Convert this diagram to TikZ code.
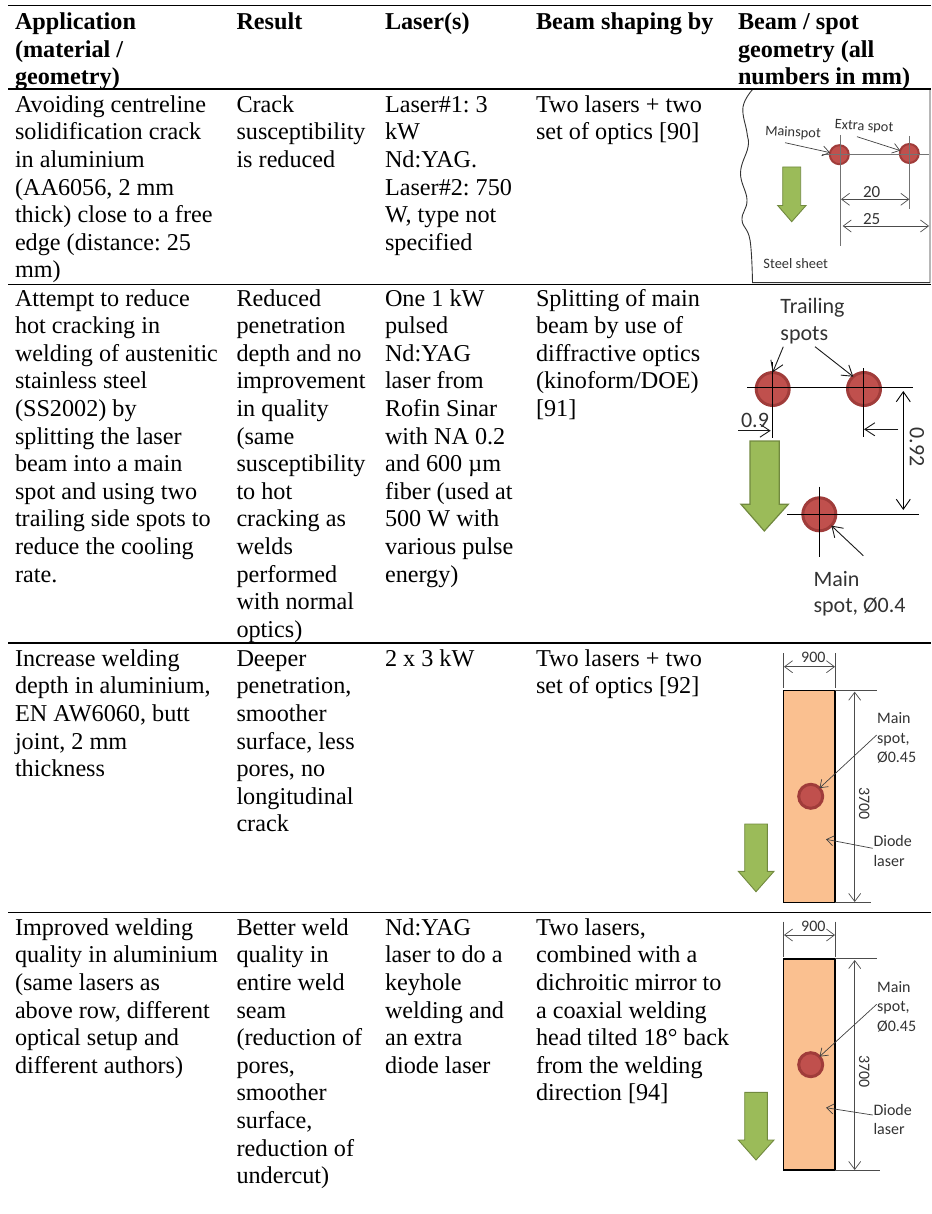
\documentclass[tikz,border=0pt]{standalone}
\usepackage{fontspec}
\setmainfont{Liberation Serif}
\newfontfamily\figfont{Carlito}
\usetikzlibrary{arrows.meta}
\newcommand\lineone{\rule{0pt}{19.3pt}}
\definecolor{spotfill}{HTML}{C0504D}
\definecolor{spotline}{HTML}{A03C3A}
\definecolor{arrowfill}{HTML}{9BBB59}
\definecolor{arrowline}{HTML}{71893F}
\definecolor{laserfill}{HTML}{FAC090}
\definecolor{figtext}{HTML}{333333}
\tikzset{
  x=1pt,y=-1pt,
  cell/.style={anchor=north west,align=left,inner sep=0pt,outer sep=0pt,text=black,
    font=\fontsize{24.2}{27.6}\selectfont\frenchspacing},
  headcell/.style={cell,font=\fontsize{24.2}{27.6}\selectfont\frenchspacing\bfseries},
  rule/.style={line width=1.1pt,black},
  dim/.style={line width=0.7pt,draw=black!70,{Straight Barb[length=8pt,width=12pt]}-{Straight Barb[length=8pt,width=12pt]}},
  lead/.style={line width=0.7pt,draw=black!75,-{Straight Barb[length=7pt,width=10pt]}},
  blackdim/.style={line width=0.9pt,draw=black,{Straight Barb[length=10pt,width=14pt]}-{Straight Barb[length=10pt,width=14pt]}},
  blacklead/.style={line width=0.9pt,draw=black!90,-{Straight Barb[length=10pt,width=13pt]}},
  ext/.style={line width=0.8pt,draw=black!70},
  cross/.style={line width=0.9pt,draw=black},
  greyline/.style={line width=0.9pt,draw=black!55},
  labsm/.style={inner sep=0pt,text=figtext,font=\figfont\fontsize{14.4}{17}\selectfont,align=left},
  lab/.style={inner sep=0pt,text=figtext,font=\figfont\fontsize{16}{19.5}\selectfont,align=left},
  labdim/.style={inner sep=0pt,text=figtext,font=\figfont\fontsize{17}{19}\selectfont,align=left},
  labbig/.style={inner sep=0pt,text=figtext,font=\figfont\fontsize{22}{26.4}\selectfont,align=left},
  spot/.style={circle,draw=spotline,fill=spotfill,minimum size=#1,inner sep=0pt,outer sep=0pt,line width=3pt},
  moveshape/.style={draw=arrowline,fill=arrowfill,line width=0.9pt},
}
\begin{document}
\begin{tikzpicture}
\useasboundingbox (0,0) rectangle (931,1214);
% rules
\coordinate (r0l) at (8,5.5); \coordinate (r0r) at (931,5.5);
\coordinate (r1l) at (8,89); \coordinate (r1r) at (931,89);
\coordinate (r2l) at (8,284.3); \coordinate (r2r) at (931,284.3);
\coordinate (r3l) at (8,643); \coordinate (r3r) at (931,643);
\coordinate (r4l) at (8,912.3); \coordinate (r4r) at (931,912.3);
% fig 1 outline (below the rules)
\draw[line width=0.9pt,black!80] plot[smooth,tension=0.7] coordinates {(753,89) (743,107) (747,133) (748,147) (740.5,173) (747,200) (742,220) (750,240) (752.5,282.7)} -- (930,282.7) -- (930,89);
\draw[rule,line width=1.8pt] (r0l) -- (r0r);
\draw[rule] (r1l) -- (r1r);
\draw[rule] (r2l) -- (r2r);
\draw[rule] (r3l) -- (r3r);
\draw[rule] (r4l) -- (r4r);
% header
\node[headcell] (h1) at (15,10.2) {\lineone Application\\(material /\\geometry)};
\node[headcell] (h2) at (236.5,10.2) {\lineone Result};
\node[headcell] (h3) at (385,10.2) {\lineone Laser(s)};
\node[headcell] (h4) at (536,10.2) {\lineone Beam shaping by};
\node[headcell] (h5) at (738,10.2) {\lineone Beam / spot\\geometry (all\\numbers in mm)};
% row 1
\node[cell] (a1) at (15,93) {\lineone Avoiding centreline\\solidification crack\\in aluminium\\(AA6056, 2 mm\\thick) close to a free\\edge (distance: 25\\mm)};
\node[cell] (b1) at (236.5,93) {\lineone Crack\\susceptibility\\is reduced};
\node[cell] (c1) at (385,93) {\lineone Laser\#1: 3\\kW\\Nd:YAG.\\Laser\#2: 750\\W, type not\\specified};
\node[cell] (d1) at (536,93) {\lineone Two lasers + two\\set of optics [90]};
% row 2
\node[cell] (a2) at (15,286.7) {\lineone Attempt to reduce\\hot cracking in\\welding of austenitic\\stainless steel\\(SS2002) by\\splitting the laser\\beam into a main\\spot and using two\\trailing side spots to\\reduce the cooling\\rate.};
\node[cell] (b2) at (236.5,286.7) {\lineone Reduced\\penetration\\depth and no\\improvement\\in quality\\(same\\susceptibility\\to hot\\cracking as\\welds\\performed\\with normal\\optics)};
\node[cell] (c2) at (385,286.7) {\lineone One 1 kW\\pulsed\\Nd:YAG\\laser from\\Rofin Sinar\\with NA 0.2\\and 600 µm\\fiber (used at\\500 W with\\various pulse\\energy)};
\node[cell] (d2) at (536,286.7) {\lineone Splitting of main\\beam by use of\\diffractive optics\\(kinoform/DOE)\\{[91]}};
% row 3
\node[cell] (a3) at (15,647) {\lineone Increase welding\\depth in aluminium,\\EN AW6060, butt\\joint, 2 mm\\thickness};
\node[cell] (b3) at (236.5,647) {\lineone Deeper\\penetration,\\smoother\\surface, less\\pores, no\\longitudinal\\crack};
\node[cell] (c3) at (385,647) {\lineone 2 x 3 kW};
\node[cell] (d3) at (536,647) {\lineone Two lasers + two\\set of optics [92]};
% row 4
\node[cell] (a4) at (15,916) {\lineone Improved welding\\quality in aluminium\\(same lasers as\\above row, different\\optical setup and\\different authors)};
\node[cell] (b4) at (236.5,916) {\lineone Better weld\\quality in\\entire weld\\seam\\(reduction of\\pores,\\smoother\\surface,\\reduction of\\undercut)};
\node[cell] (c4) at (385,916) {\lineone Nd:YAG\\laser to do a\\keyhole\\welding and\\an extra\\diode laser};
\node[cell] (d4) at (536,916) {\lineone Two lasers,\\combined with a\\dichroitic mirror to\\a coaxial welding\\head tilted 18° back\\from the welding\\direction [94]};
% fig 1
\node[spot=19pt,line width=2pt] (s11) at (839.3,154.7) {};
\node[spot=19pt,line width=2pt] (s12) at (909.3,153.5) {};
\draw[greyline] (822,154) -- (929,154);
\draw[greyline] (840,135) -- (840,246);
\draw[greyline] (909,136) -- (909,209);
\node[labsm,rotate=-3] (l11) at (793,133) {Mainspot};
\node[labsm,rotate=-3] (l12) at (864,127) {Extra spot};
\coordinate (f1) at (785,142.7); \coordinate (f2) at (857,136.7);
\draw[lead] (f1) -- (s11);
\draw[lead] (f2) -- (s12);
\draw[moveshape] (782.7,167) -- (800.7,167) -- (800.7,205.5) -- (806,205.5) -- (791.7,221.7) -- (777.7,205.5) -- (782.7,205.5) -- cycle;
\coordinate (e1) at (841,199.3); \coordinate (e2) at (909.3,199.3);
\coordinate (e3) at (842.7,226); \coordinate (e4) at (929,226);
\draw[dim] (e1) -- (e2);
\draw[dim] (e3) -- (e4);
\node[labdim] (n20) at (871.7,192) {20};
\node[labdim] (n25) at (871.7,218.7) {25};
\node[labsm] (l13) at (795.7,264) {Steel sheet};
% fig 2
\node[spot=33pt] (s21) at (772.7,389) {};
\node[spot=33pt] (s22) at (864,389) {};
\node[spot=33pt] (s23) at (819.3,514.3) {};
\draw[cross] (747.3,387) -- (912.7,387);
\draw[cross] (772.3,362) -- (772.3,437.7);
\draw[cross] (863.7,368) -- (863.7,437);
\draw[cross] (787.3,514.3) -- (919.3,514.3);
\draw[cross] (819,486.7) -- (819,556.7);
\node[labbig] (l21) at (812.5,321) {Trailing\\spots};
\coordinate (f3) at (783.3,346.7); \coordinate (f4) at (815,346.7);
\coordinate (t3) at (772.7,372.3); \coordinate (t4) at (853.3,376.7);
\draw[blacklead] (f3) -- (t3);
\draw[blacklead] (f4) -- (t4);
\coordinate (f5) at (738.3,430.7); \coordinate (f6) at (770.7,430.7);
\draw[blacklead] (f5) -- (f6);
\node[labbig] (l22) at (755,420) {0.9};
\coordinate (f7) at (898.3,429.3); \coordinate (f8) at (864,429.3);
\draw[blacklead] (f7) -- (f8);
\coordinate (e5) at (903.3,391); \coordinate (e6) at (903.3,510);
\draw[blackdim] (e5) -- (e6);
\node[labbig,rotate=-90] (l23) at (917,447.3) {0.92};
\draw[moveshape,line width=1.2pt] (750,441) -- (779.3,441) -- (779.3,504.3) -- (788.3,504.3) -- (764.3,531) -- (741,504.3) -- (750,504.3) -- cycle;
\coordinate (f9) at (863.3,555.7);
\draw[blacklead] (f9) -- (s23);
\node[labbig,anchor=west] (l24) at (813.3,593.5) {Main\\spot, Ø0.4};
% fig 3
\draw[line width=1.3pt,fill=laserfill] (783.3,690.7) rectangle (835,902.3);
\node[spot=24pt] (s31) at (810.7,796.3) {};
\draw[ext] (783.7,653) -- (783.7,688);
\draw[ext] (835.3,653) -- (835.3,688);
\draw[ext] (835,690.7) -- (877.3,690.7);
\draw[ext] (835,902.3) -- (870.7,902.3);
\coordinate (e7) at (784,666.7); \coordinate (e8) at (835,666.7);
\draw[dim] (e7) -- (e8);
\node[lab] (n31) at (813.3,657.3) {900};
\coordinate (e9) at (854.7,691.7); \coordinate (e10) at (854.7,902);
\draw[dim] (e9) -- (e10);
\node[lab,rotate=-90] (n32) at (864.3,803.3) {3700};
\node[lab,anchor=west] (l31) at (877,738) {Main\\spot,\\Ø0.45};
\coordinate (f10) at (876.7,735);
\draw[lead] (f10) -- (s31);
\coordinate (f11) at (872.7,848.3); \coordinate (f12) at (826,839.3);
\draw[lead] (f11) -- (f12);
\node[lab,anchor=west] (l33) at (873.3,851) {Diode\\laser};
\draw[moveshape] (744.7,824) -- (767.3,824) -- (767.3,871.3) -- (774,871.3) -- (756,891.7) -- (738.3,871.3) -- (744.7,871.3) -- cycle;
% fig 4
\draw[line width=1.3pt,fill=laserfill] (783.3,959) rectangle (835,1170);
\node[spot=24pt] (s41) at (810.7,1064.7) {};
\draw[ext] (783.7,921.7) -- (783.7,956.7);
\draw[ext] (835.3,921.7) -- (835.3,956.7);
\draw[ext] (835,958.5) -- (877.3,958.5);
\draw[ext] (835,1170) -- (880,1170);
\coordinate (e11) at (784,935); \coordinate (e12) at (835,935);
\draw[dim] (e11) -- (e12);
\node[lab] (n41) at (813.3,926) {900};
\coordinate (e13) at (854.7,960); \coordinate (e14) at (854.7,1170);
\draw[dim] (e13) -- (e14);
\node[lab,rotate=-90] (n42) at (864.3,1071.7) {3700};
\node[lab,anchor=west] (l41) at (877,1006.7) {Main\\spot,\\Ø0.45};
\coordinate (f13) at (876.7,1004.3);
\draw[lead] (f13) -- (s41);
\coordinate (f14) at (872.7,1115); \coordinate (f15) at (826,1107.7);
\draw[lead] (f14) -- (f15);
\node[lab,anchor=west] (l43) at (873.3,1119.5) {Diode\\laser};
\draw[moveshape] (744.7,1092.3) -- (767.3,1092.3) -- (767.3,1140) -- (774,1140) -- (756,1160) -- (738.3,1140) -- (744.7,1140) -- cycle;
\end{tikzpicture}
\end{document}
